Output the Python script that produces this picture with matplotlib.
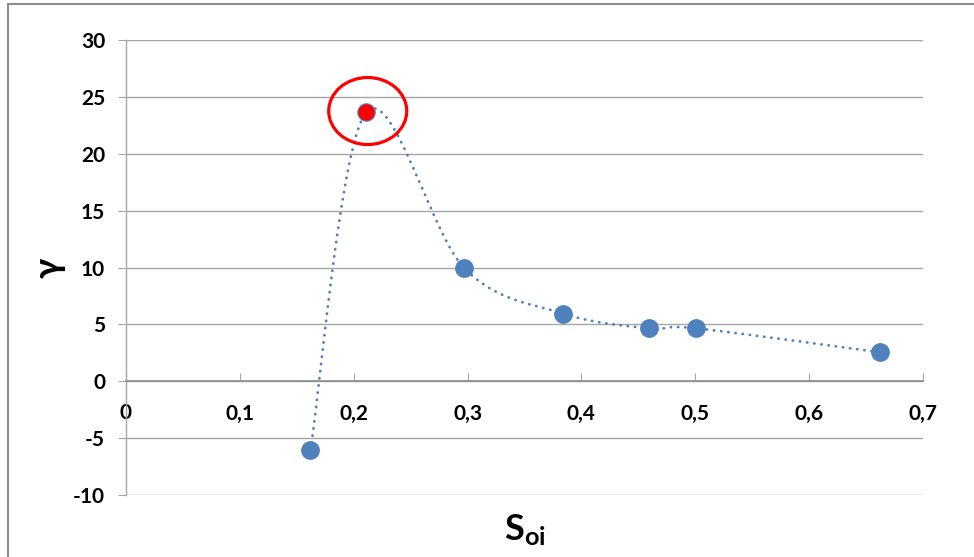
import numpy as np
import matplotlib
matplotlib.use("Agg")
import matplotlib.pyplot as plt
from matplotlib.patches import Ellipse, Rectangle

plt.rcParams['font.family'] = ['Lato', 'DejaVu Sans']
plt.rcParams['mathtext.fontset'] = 'custom'
plt.rcParams['mathtext.bf'] = 'Lato:bold'
plt.rcParams['mathtext.rm'] = 'Lato:bold'
plt.rcParams['axes.unicode_minus'] = False

# data
s_oi = [0.162, 0.211, 0.297, 0.384, 0.459, 0.501, 0.662]
gamma = [-6.05, 23.65, 9.95, 5.95, 4.65, 4.65, 2.55]
hl_idx = 1  # highlighted point

xticks = [0, 0.1, 0.2, 0.3, 0.4, 0.5, 0.6, 0.7]
xtick_labels = ['0', '0,1', '0,2', '0,3', '0,4', '0,5', '0,6', '0,7']
yticks = [-10, -5, 0, 5, 10, 15, 20, 25, 30]

blue = '#4F81BD'
grid_col = '#A6A6A6'


def excel_smooth(x, y, sx, sy, n=60):
    # Bezier smoothing like Excel's "smoothed line", done in screen-like units
    px = np.asarray(x) * sx
    py = np.asarray(y) * sy
    P = np.column_stack([px, py])
    P = np.vstack([P[0], P, P[-1]])
    out = []
    t = np.linspace(0, 1, n)[:, None]
    for i in range(1, len(P) - 2):
        p0, p3 = P[i], P[i + 1]
        c1 = p0 + (P[i + 1] - P[i - 1]) / 6
        c2 = p3 - (P[i + 2] - P[i]) / 6
        seg = (1 - t)**3 * p0 + 3 * (1 - t)**2 * t * c1 + 3 * (1 - t) * t**2 * c2 + t**3 * p3
        out.append(seg)
    out = np.vstack(out)
    return out[:, 0] / sx, out[:, 1] / sy


fig = plt.figure(figsize=(9.74, 5.57), dpi=100)
ax = fig.add_axes([126 / 974, 1 - 495 / 557, 797 / 974, 455 / 557])

# outer chart border
fig.patches.append(Rectangle((8 / 974, -0.1), 1.2, 1 - 4 / 557 + 0.1, transform=fig.transFigure,
                             fill=False, edgecolor='#8C8C8C', lw=1.5))

ax.set_xlim(0, 0.7)
ax.set_ylim(-10, 30)

# pixel scale of the plot area
sx = 797 / 0.7
sy = 455 / 40
cx, cy = excel_smooth(s_oi, gamma, sx, sy)
ax.plot(cx, cy, color=blue, lw=2, linestyle=(0, (0.1, 2.5)), dash_capstyle='round', zorder=3)

others = [i for i in range(len(s_oi)) if i != hl_idx]
ax.plot([s_oi[i] for i in others], [gamma[i] for i in others], 'o', color=blue,
        markersize=12.5, markeredgecolor=blue, zorder=4)
ax.plot(s_oi[hl_idx], gamma[hl_idx], 'o', color='red', markersize=12.5,
        markeredgecolor=blue, markeredgewidth=0.8, zorder=5)

# red ring around the peak (size in pixels)
ring = Ellipse((s_oi[hl_idx] + 1.5 / sx, gamma[hl_idx] + 1.2 / sy), 78 / sx, 67 / sy,
               fill=False, edgecolor='red', lw=2.3, zorder=6)
ax.add_patch(ring)

ax.set_xticks(xticks)
ax.set_xticklabels(xtick_labels)
ax.set_yticks(yticks)

for sp in ['top', 'right']:
    ax.spines[sp].set_visible(False)
ax.spines['bottom'].set_position(('data', 0))
ax.spines['bottom'].set_color('#8C8C8C')
ax.spines['left'].set_color(grid_col)
ax.spines['bottom'].set_linewidth(1.2)
ax.spines['left'].set_linewidth(1.0)

ax.yaxis.grid(True, color=grid_col, lw=1.0)
ax.set_axisbelow(True)

ax.tick_params(axis='x', direction='in', length=6, color=grid_col, pad=16,
               labelsize=15)
ax.tick_params(axis='y', direction='out', length=6, color=grid_col, pad=9,
               labelsize=15)
for lab in ax.get_xticklabels() + ax.get_yticklabels():
    lab.set_fontweight('bold')

fig.text(49 / 974, 1 - 268 / 557, 'γ', rotation=90, ha='center', va='center',
         fontsize=26, fontweight='bold')
fig.text(525 / 974, 1 - 530 / 557, r'$\mathbf{S_{oi}}$', ha='center', va='center',
         fontsize=26)

fig.savefig('out.png', dpi=100)
